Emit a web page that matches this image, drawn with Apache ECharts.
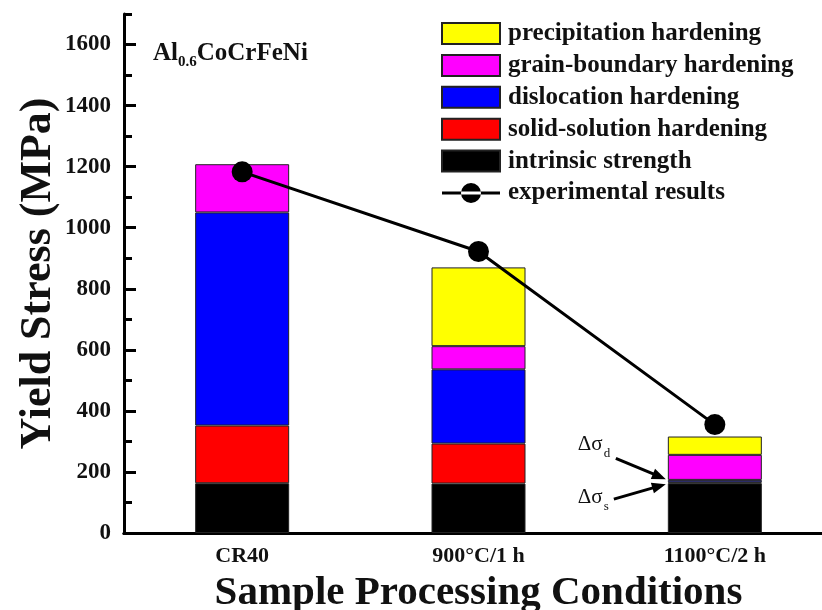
<!DOCTYPE html>
<html><head><meta charset="utf-8">
<script src="https://cdn.jsdelivr.net/npm/echarts@6/dist/echarts.min.js"></script>
<style>html,body{margin:0;padding:0;background:#fff}#c{width:822px;height:610px}</style>
</head><body><div id="c"></div>
<script>
// ---- data ----
const categories = ['CR40', '900°C/1 h', '1100°C/2 h'];
const intrinsicStrength = [163, 162, 163];
const solidSolutionHardening = [189, 131, 3];
const dislocationHardening = [698, 243, 8];
const grainBoundaryHardening = [158, 76, 82];
const precipitationHardening = [0, 258, 60];
const experimentalResults = [1183, 922, 355];
const yMin = 0, yMax = 1700, yMajor = 200, yMinor = 100;

const FONT = "'Liberation Serif','Times New Roman',serif";
const chart = echarts.init(document.getElementById('c'), null, {renderer: 'canvas'});

const nz = a => a.map(v => (v === 0 ? null : v));
const barStyle = c => ({color: c, borderColor: '#222', borderWidth: 1});

const option = {
  backgroundColor: '#fff',
  animation: false,
  grid: {left: 124, right: -11, top: 14, bottom: 77, containLabel: false, outerBoundsMode: 'none'},
  legend: {
    orient: 'vertical', left: 441, top: 21, padding: 0,
    itemWidth: 58, itemHeight: 21, itemGap: 6.9,
    icon: 'rect',
    textStyle: {fontFamily: FONT, fontWeight: 'bold', fontSize: 25, lineHeight: 21, color: '#111', padding: [0, 0, 0, 3]},
    data: [
      'precipitation hardening', 'grain-boundary hardening', 'dislocation hardening',
      'solid-solution hardening', 'intrinsic strength',
      {name: 'experimental results', icon: 'path://M0,9 L58,9 L58,12 L0,12 Z M19,10.5 A10,10 0 1,0 39,10.5 A10,10 0 1,0 19,10.5 Z'}
    ]
  },
  xAxis: [{
    type: 'category', data: categories, position: 'bottom',
    axisLine: {show: true, lineStyle: {color: '#000', width: 3}},
    axisTick: {show: false},
    axisLabel: {fontFamily: FONT, fontWeight: 'bold', fontSize: 22, color: '#111', margin: 12},
    name: 'Sample Processing Conditions', nameLocation: 'middle', nameGap: 40, nameMoveOverlap: false,
    nameTextStyle: {fontFamily: FONT, fontWeight: 'bold', fontSize: 41, color: '#111'}
  }, {
    type: 'category', data: categories, position: 'top',
    axisLine: {show: true, lineStyle: {color: '#000', width: 3}},
    axisTick: {show: false}, axisLabel: {show: false}
  }],
  yAxis: [{
    type: 'value', min: yMin, max: yMax, interval: yMajor,
    axisLine: {show: true, lineStyle: {color: '#000', width: 3}},
    axisTick: {show: true, inside: true, length: 12, lineStyle: {color: '#000', width: 3}},
    axisLabel: {fontFamily: FONT, fontWeight: 'bold', fontSize: 23, color: '#111', margin: 13, showMaxLabel: false,
                formatter: v => String(v)},
    splitLine: {show: false},
    name: 'Yield Stress (MPa)', nameLocation: 'middle', nameGap: 63, nameRotate: 90, nameMoveOverlap: false,
    nameTextStyle: {fontFamily: FONT, fontWeight: 'bold', fontSize: 44, color: '#111'}
  }, {
    type: 'value', min: yMin, max: yMax, interval: yMinor, position: 'left',
    axisLine: {show: false},
    axisTick: {show: true, inside: true, length: 8, lineStyle: {color: '#000', width: 3}},
    axisLabel: {show: false}, splitLine: {show: false}
  }],
  series: [
    {name: 'intrinsic strength', type: 'bar', stack: 's', barWidth: 94, data: nz(intrinsicStrength), itemStyle: barStyle('#000000')},
    {name: 'solid-solution hardening', type: 'bar', stack: 's', barWidth: 94, data: nz(solidSolutionHardening), itemStyle: barStyle('#ff0000')},
    {name: 'dislocation hardening', type: 'bar', stack: 's', barWidth: 94, data: nz(dislocationHardening), itemStyle: barStyle('#0000ff')},
    {name: 'grain-boundary hardening', type: 'bar', stack: 's', barWidth: 94, data: nz(grainBoundaryHardening), itemStyle: barStyle('#ff00ff')},
    {name: 'precipitation hardening', type: 'bar', stack: 's', barWidth: 94, data: nz(precipitationHardening), itemStyle: barStyle('#ffff00')},
    {name: 'experimental results', type: 'line', data: experimentalResults, z: 5,
     symbol: 'circle', symbolSize: 21, lineStyle: {color: '#000', width: 3}, itemStyle: {color: '#000'}}
  ]
};
chart.setOption(option);

// ---- annotations positioned from the axes ----
function px(ci, v) { return chart.convertToPixel({xAxisIndex: 0, yAxisIndex: 0}, [ci, v]); }
function arrow(x0, y0, x1, y1) {
  const dx = x1 - x0, dy = y1 - y0, L = Math.hypot(dx, dy);
  const ux = dx / L, uy = dy / L, nx = -uy, ny = ux, hl = 14, hw = 5.5;
  return [
    {type: 'line', shape: {x1: x0, y1: y0, x2: x1 - ux * hl * 0.7, y2: y1 - uy * hl * 0.7}, style: {stroke: '#000', lineWidth: 3}, z: 10},
    {type: 'polygon', shape: {points: [[x1, y1], [x1 - ux * hl + nx * hw, y1 - uy * hl + ny * hw], [x1 - ux * hl - nx * hw, y1 - uy * hl - ny * hw]]}, style: {fill: '#000'}, z: 10}
  ];
}
const c2 = px(2, 0)[0] - 47;
const tipD = [c2 - 2, px(2, 176)[1]];
const tipS = [c2 - 2, px(2, 160)[1]];
const graphics = [
  {type: 'text', left: 153, top: 38, z: 10, style: {
    text: '{a|Al}{b|0.6}{a|CoCrFeNi}',
    rich: {a: {fontFamily: FONT, fontWeight: 'bold', fontSize: 25, fill: '#111', lineHeight: 30},
           b: {fontFamily: FONT, fontWeight: 'bold', fontSize: 15, fill: '#111', padding: [17, 0, 0, 0], lineHeight: 15}}
  }},
  {type: 'text', left: tipD[0] - 88, top: tipD[1] - 50, z: 10, style: {
    text: '{a|Δσ}{b|d}',
    rich: {a: {fontFamily: FONT, fontSize: 21, fill: '#111', lineHeight: 26},
           b: {fontFamily: FONT, fontSize: 13, fill: '#111', padding: [18, 0, 0, 1], lineHeight: 13}}
  }},
  {type: 'text', left: tipS[0] - 88, top: tipS[1] - 2, z: 10, style: {
    text: '{a|Δσ}{b|s}',
    rich: {a: {fontFamily: FONT, fontSize: 21, fill: '#111', lineHeight: 26},
           b: {fontFamily: FONT, fontSize: 13, fill: '#111', padding: [18, 0, 0, 1], lineHeight: 13}}
  }}
].concat(arrow(tipD[0] - 50, tipD[1] - 21, tipD[0], tipD[1]))
 .concat(arrow(tipS[0] - 52, tipS[1] + 15, tipS[0], tipS[1]));
chart.setOption({graphic: graphics});
</script></body></html>
